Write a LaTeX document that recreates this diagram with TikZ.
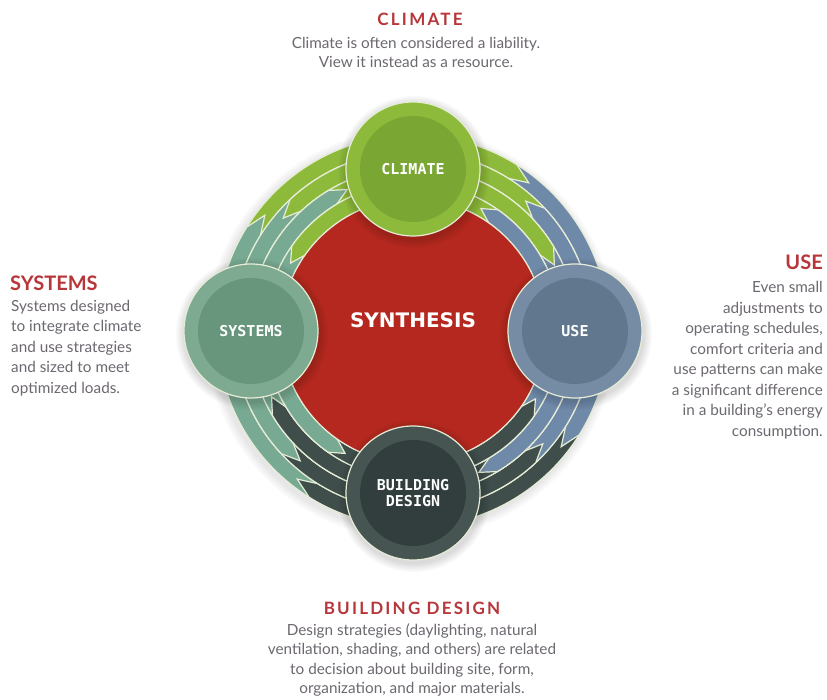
\documentclass[tikz,border=0pt]{standalone}
\usepackage{fontspec}
\setmainfont{Lato}
\newfontfamily\spacedfont{Lato}[LetterSpace=13]
\newfontfamily\monofont{DejaVu Sans Mono}
\newfontfamily\widefont{DejaVu Sans}

\definecolor{synthred}{HTML}{B5281F}
\definecolor{headred}{HTML}{B8363A}
\definecolor{textgray}{HTML}{6D6870}
\definecolor{ringedge}{HTML}{E6ECD6}
\definecolor{climouter}{HTML}{8DBA3A}
\definecolor{climinner}{HTML}{7AA734}
\definecolor{sysouter}{HTML}{7DAA91}
\definecolor{sysinner}{HTML}{67967D}
\definecolor{useouter}{HTML}{768CA5}
\definecolor{useinner}{HTML}{60778E}
\definecolor{bdouter}{HTML}{465452}
\definecolor{bdinner}{HTML}{323E3D}
\definecolor{climband}{HTML}{8DBA3A}
\definecolor{sysband}{HTML}{78A993}
\definecolor{useband}{HTML}{6F8AA8}
\definecolor{bdband}{HTML}{3F4D4B}

% one track of the ring: colour, from, to, outer radius
\newcommand{\ringband}[4]{%
  \fill[#1, draw=ringedge, line width=1.2pt]
    ({#2}:{#4pt}) arc[start angle={#2}, end angle={#3}, radius={#4pt}]
    -- ({#3}:{#4pt-16pt}) arc[start angle={#3}, end angle={#2}, radius={#4pt-16pt}] -- cycle;}
% pointed piece of a track: colour, from, to, tip, outer radius
\newcommand{\ringarrow}[5]{%
  \fill[#1, draw=ringedge, line width=1.2pt]
    ({#2}:{#5pt}) arc[start angle={#2}, end angle={#3}, radius={#5pt}]
    -- ({#4}:{#5pt-8pt}) -- ({#3}:{#5pt-16pt})
    arc[start angle={#3}, end angle={#2}, radius={#5pt-16pt}] -- cycle;}
% four tracks between two hubs: base angle, colour of hub at base+90, colour of hub at base
\newcommand{\ringquadrant}[3]{%
  \ringband{#3}{#1-5}{#1+95}{196}
  \ringarrow{#2}{#1+95}{#1+58}{#1+52}{196}
  \ringband{#2}{#1-5}{#1+95}{180}
  \ringarrow{#3}{#1-5}{#1+43}{#1+49}{180}
  \ringband{#3}{#1-5}{#1+95}{164}
  \ringarrow{#2}{#1+95}{#1+31}{#1+25}{164}
  \ringband{#2}{#1-5}{#1+95}{148}
  \ringarrow{#3}{#1-5}{#1+55}{#1+61}{148}}

\begin{document}
\begin{tikzpicture}[
  x=1pt, y=1pt,
  hub/.style 2 args={
    circle,
    minimum size=134pt,
    inner sep=0pt,
    fill=#1,
    draw=ringedge,
    line width=1.2pt,
    path picture={\fill[#2] (path picture bounding box.center) circle[radius=53pt];},
    text=white,
    align=center,
    font=\monofont\bfseries\fontsize{15}{16.5}\selectfont
  },
  heading/.style={
    text=headred,
    inner sep=0pt,
    font=\bfseries\fontsize{20}{24}\selectfont
  },
  spaced heading/.style={
    text=headred,
    inner sep=0pt,
    font=\spacedfont\bfseries\fontsize{17}{20}\selectfont
  },
  blurb/.style={
    text=textgray,
    inner sep=0pt,
    font=\fontsize{15.3}{20.5}\selectfont
  }
  ]

  \fill[white] (0,0) rectangle (827,700);
  \useasboundingbox (0,0) rectangle (827,700);

  \begin{scope}[shift={(413,369)}]
    % soft shadow under the ring
    \foreach \k in {1,...,6}
      \fill[black, opacity=0.015] (-2,-3) circle[radius={196pt+1.5pt*\k}];

    % the ring: climate -> use -> building design -> systems
    \ringquadrant{0}{climband}{useband}
    \ringquadrant{90}{sysband}{climband}
    \ringquadrant{180}{bdband}{sysband}
    \ringquadrant{270}{useband}{bdband}
  \end{scope}

  \node (synthesis) [circle, minimum size=264pt, fill=synthred, draw=ringedge, line width=1.2pt] at (413,369) {};
  \node (synthesis-label) [text=white, font=\widefont\bfseries\fontsize{20}{22}\selectfont] at (413,380) {SYNTHESIS};

  % hub shadows
  \foreach \p in {(413,531),(575,369),(413,207),(251,369)}
    \foreach \k in {1,...,6}
      \fill[black, opacity=0.025] \p ++(1,-3) circle[radius={67pt+1.5pt*\k}];

  \node (climate) [hub={climouter}{climinner}] at (413,531) {CLIMATE};
  \node (use) [hub={useouter}{useinner}] at (575,369) {USE};
  \node (building) [hub={bdouter}{bdinner}] at (413,207) {BUILDING\\DESIGN};
  \node (systems) [hub={sysouter}{sysinner}] at (251,369) {SYSTEMS};

  % captions
  \node (climate-title) [spaced heading] at (420,681) {CLIMATE};
  \node (climate-text) [blurb, align=center, font=\fontsize{15.3}{19}\selectfont] at (416,648) {Climate is often considered a liability.\\View it instead as a resource.};

  \node (systems-title) [heading, anchor=west] at (10,417) {SYSTEMS};
  \node (systems-text) [blurb, align=left, anchor=west] at (11,352) {Systems designed\\to integrate climate\\and use strategies\\and sized to meet\\optimized loads.};

  \node (use-title) [heading, anchor=east] at (823,438) {USE};
  \node (use-text) [blurb, align=right, anchor=east] at (823,340) {Even small\\adjustments to\\operating schedules,\\comfort criteria and\\use patterns can make\\a significant difference\\in a building’s energy\\consumption.};

  \node (building-title) [spaced heading] at (412,92) {BUILDING DESIGN};
  \node (building-text) [blurb, align=center, font=\fontsize{15.3}{19.5}\selectfont] at (412,40) {Design strategies (daylighting, natural\\ventilation, shading, and others) are related\\to decision about building site, form,\\organization, and major materials.};
\end{tikzpicture}
\end{document}
